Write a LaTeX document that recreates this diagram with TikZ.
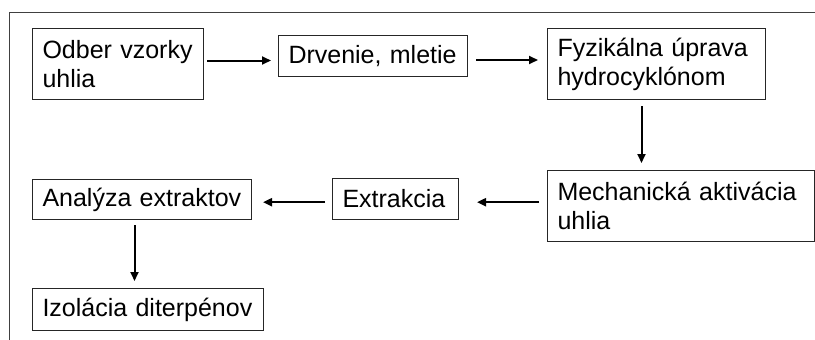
\documentclass[tikz,border=0pt]{standalone}
\usepackage{fontspec}
\setmainfont{Liberation Sans}
\usetikzlibrary{arrows.meta,calc}
\begin{document}
\begin{tikzpicture}[x=1pt,y=-1pt,
  box/.style={draw=black!85, line width=1pt, anchor=north west, inner xsep=10pt, inner ysep=0pt,
    align=left, font=\fontsize{25}{29}\selectfont},
  arr/.style={draw=black, line width=2pt, -{Triangle[length=9pt,width=8pt]}},
  frame/.style={draw=black!75, line width=1pt}]
\useasboundingbox (0,0) rectangle (815,340);
\draw[frame] (815,12) -- (9,12) -- (9,340);
\node[box, text width=151pt, minimum height=71pt] (b1) at (32,28) {Odber vzorky\\uhlia};
\node[box, text width=169pt, minimum height=41pt] (b2) at (278,35) {Drvenie, mletie};
\node[box, text width=198pt, minimum height=71pt] (b3) at (547,28) {Fyzikálna úprava\\hydrocyklónom};
\node[box, text width=247pt, minimum height=71pt] (b4) at (547,170) {Mechanická aktivácia\\uhlia};
\node[box, text width=106pt, minimum height=41pt] (b5) at (332,178) {Extrakcia};
\node[box, text width=199pt, minimum height=40pt] (b6) at (32,179) {Analýza extraktov};
\node[box, text width=211pt, minimum height=42pt] (b7) at (32,288) {Izolácia diterpénov};
\draw[arr] ($(b1.east)+(3,-3.5)$) -- ($(b2.west)+(-7,4.5)$);
\draw[arr] ($(b2.east)+(8,4)$) -- ($(b3.west)+(-9,-4)$);
\draw[arr] ($(b3.south)+(-15,6)$) -- ($(b4.north)+(-39.5,-7)$);
\draw[arr] ($(b4.west)+(-8,-3.8)$) -- ($(b5.east)+(18,3.2)$);
\draw[arr] ($(b5.west)+(-7,3.2)$) -- ($(b6.east)+(11,2.7)$);
\draw[arr] ($(b6.south)+(-7.5,5)$) -- ($(b7.north)+(-13.5,-7)$);
\end{tikzpicture}
\end{document}
